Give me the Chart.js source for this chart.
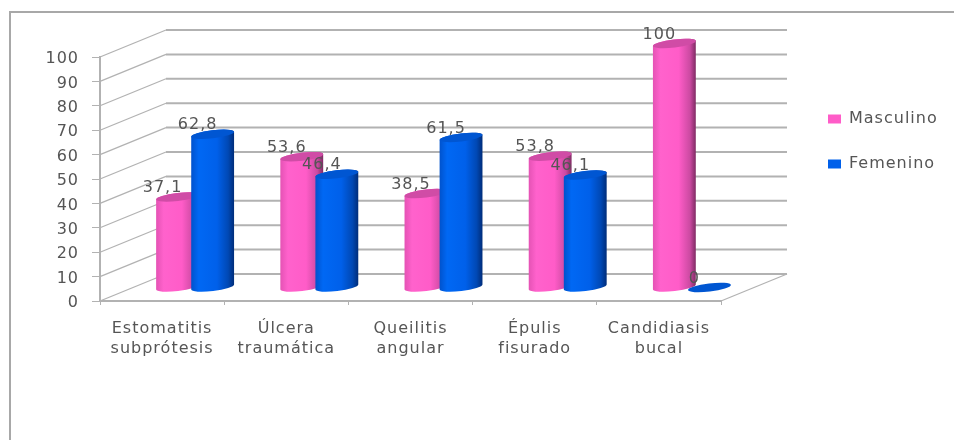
<!DOCTYPE html>
<html>
<head>
<meta charset="utf-8">
<title>Lesiones por sexo</title>
<script src="https://cdn.jsdelivr.net/npm/chart.js@4"></script>
<style>
    html, body { margin: 0; padding: 0; background: #fff; }
    #frame { position: absolute; left: 9px; top: 11px; right: 0; bottom: 0; border-left: 2px solid #a8a8a8; border-top: 2px solid #a8a8a8; }
    #chart { position: absolute; left: 0; top: 0; filter: blur(0.6px); }
</style>
</head>
<body>
<div id="frame"></div>
<canvas id="chart" width="954" height="440"></canvas>
<script>
const categories = [
    ["Estomatitis", "subprótesis"],
    ["Úlcera", "traumática"],
    ["Queilitis", "angular"],
    ["Épulis", "fisurado"],
    ["Candidiasis", "bucal"]
];
const masculino = [37.1, 53.6, 38.5, 53.8, 100];
const femenino = [62.8, 46.4, 61.5, 46.1, 0];
const yTicks = [0, 10, 20, 30, 40, 50, 60, 70, 80, 90, 100];

const TEXT = "#555555";
const GRID = "#b2b2b2";
// offset of the back wall from the front plane
const DEPTH_X = 66;
const DEPTH_Y = -27;

const shades = [
    { stops: ["#e452b4", "#ff62cc", "#ff5cc8", "#cc4aa2", "#7e2a62"], cap: "#d04ca6" },
    { stops: ["#0052cc", "#0068f4", "#0060ea", "#0048b4", "#002c78"], cap: "#0056d2" }
];

// Back wall lines and the diagonals running to the y axis
function drawWalls(chart) {
    const { ctx, chartArea, scales } = chart;
    ctx.save();
    ctx.strokeStyle = GRID;
    yTicks.forEach(v => {
        const y = scales.y.getPixelForValue(v);
        ctx.lineWidth = 2;
        ctx.beginPath();
        ctx.moveTo(chartArea.left + DEPTH_X, y + DEPTH_Y);
        ctx.lineTo(chartArea.right + DEPTH_X, y + DEPTH_Y);
        ctx.stroke();
        ctx.lineWidth = 1.2;
        ctx.beginPath();
        ctx.moveTo(chartArea.left, y);
        ctx.lineTo(chartArea.left + DEPTH_X, y + DEPTH_Y);
        ctx.stroke();
    });
    // floor edge on the right
    const y0 = scales.y.getPixelForValue(0);
    ctx.lineWidth = 1.2;
    ctx.beginPath();
    ctx.moveTo(chartArea.right, y0);
    ctx.lineTo(chartArea.right + DEPTH_X, y0 + DEPTH_Y);
    ctx.stroke();
    ctx.restore();
}

// One tilted cylinder, standing half way into the depth of the chart
function drawCylinder(ctx, bar, shade) {
    const cx = bar.x + DEPTH_X / 2;
    const top = bar.y + DEPTH_Y / 2;
    const bottom = bar.base + DEPTH_Y / 2;
    const rx = bar.width / 2;
    const ry = 4;
    const tilt = -0.12;

    if (bottom - top > 1) {
        const grad = ctx.createLinearGradient(cx - rx, 0, cx + rx, 0);
        [0, 0.18, 0.6, 0.86, 1].forEach((p, i) => grad.addColorStop(p, shade.stops[i]));
        ctx.fillStyle = grad;
        ctx.beginPath();
        ctx.ellipse(cx, bottom, rx, ry, tilt, 0, Math.PI);
        ctx.ellipse(cx, top, rx, ry, tilt, Math.PI, Math.PI * 2);
        ctx.closePath();
        ctx.fill();
    }
    ctx.fillStyle = shade.cap;
    ctx.beginPath();
    ctx.ellipse(cx, top, rx, ry, tilt, 0, Math.PI * 2);
    ctx.fill();
}

const cylinders = {
    id: "cylinders",
    beforeUpdate(chart) {
        chart.ctx.letterSpacing = "1px";
    },
    beforeDraw(chart) {
        chart.ctx.letterSpacing = "1px";
    },
    // the legend belongs beside the plot, higher than its default place
    afterLayout(chart) {
        const legend = chart.legend;
        legend.left = 799;
        legend.right = 954;
        legend.top = 82;
        legend.bottom = 260;
    },
    beforeDatasetsDraw(chart) {
        const ctx = chart.ctx;
        drawWalls(chart);
        chart.data.datasets.forEach((ds, d) => {
            chart.getDatasetMeta(d).data.forEach(bar => drawCylinder(ctx, bar, shades[d]));
        });
        // value labels go over all the bars
        ctx.save();
        ctx.font = "16px 'DejaVu Sans'";
        ctx.fillStyle = TEXT;
        ctx.textAlign = "center";
        ctx.textBaseline = "middle";
        chart.data.datasets.forEach((ds, d) => {
            chart.getDatasetMeta(d).data.forEach((bar, i) => {
                const label = String(ds.data[i]).replace(".", ",");
                ctx.fillText(label, bar.x + DEPTH_X / 2 - 15, bar.y + DEPTH_Y / 2 - 9);
            });
        });
        ctx.restore();
        return false;
    }
};

new Chart(document.getElementById("chart"), {
    type: "bar",
    data: {
        labels: categories,
        datasets: [
            { label: "Masculino", data: masculino, backgroundColor: "#ff5cc8", categoryPercentage: 0.565, barPercentage: 1.23 },
            { label: "Femenino", data: femenino, backgroundColor: "#0060ea", categoryPercentage: 0.565, barPercentage: 1.23 }
        ]
    },
    options: {
        responsive: false,
        animation: false,
        layout: { padding: { left: 0, right: 233, top: 57, bottom: 79 } },
        font: { family: "'DejaVu Sans'" },
        scales: {
            x: {
                afterFit(scale) { scale.height = 60; },
                border: { color: GRID, width: 2 },
                grid: { drawOnChartArea: false, color: GRID, tickLength: 4 },
                ticks: {
                    color: TEXT,
                    font: { family: "'DejaVu Sans'", size: 16, lineHeight: 1.25 },
                    padding: 14,
                    maxRotation: 0,
                    autoSkip: false
                }
            },
            y: {
                min: 0,
                max: 100,
                afterFit(scale) { scale.width = 100; },
                border: { color: GRID, width: 2 },
                grid: { drawOnChartArea: false, color: GRID, tickLength: 8 },
                ticks: {
                    stepSize: 10,
                    color: TEXT,
                    font: { family: "'DejaVu Sans'", size: 16 },
                    padding: 13,
                    labelOffset: 2
                }
            }
        },
        plugins: {
            tooltip: { enabled: false },
            legend: {
                position: "chartArea",
                align: "start",
                labels: {
                    boxWidth: 13,
                    boxHeight: 9,
                    padding: 29,
                    color: TEXT,
                    font: { family: "'DejaVu Sans'", size: 16 }
                }
            }
        }
    },
    plugins: [cylinders]
});
</script>
</body>
</html>
